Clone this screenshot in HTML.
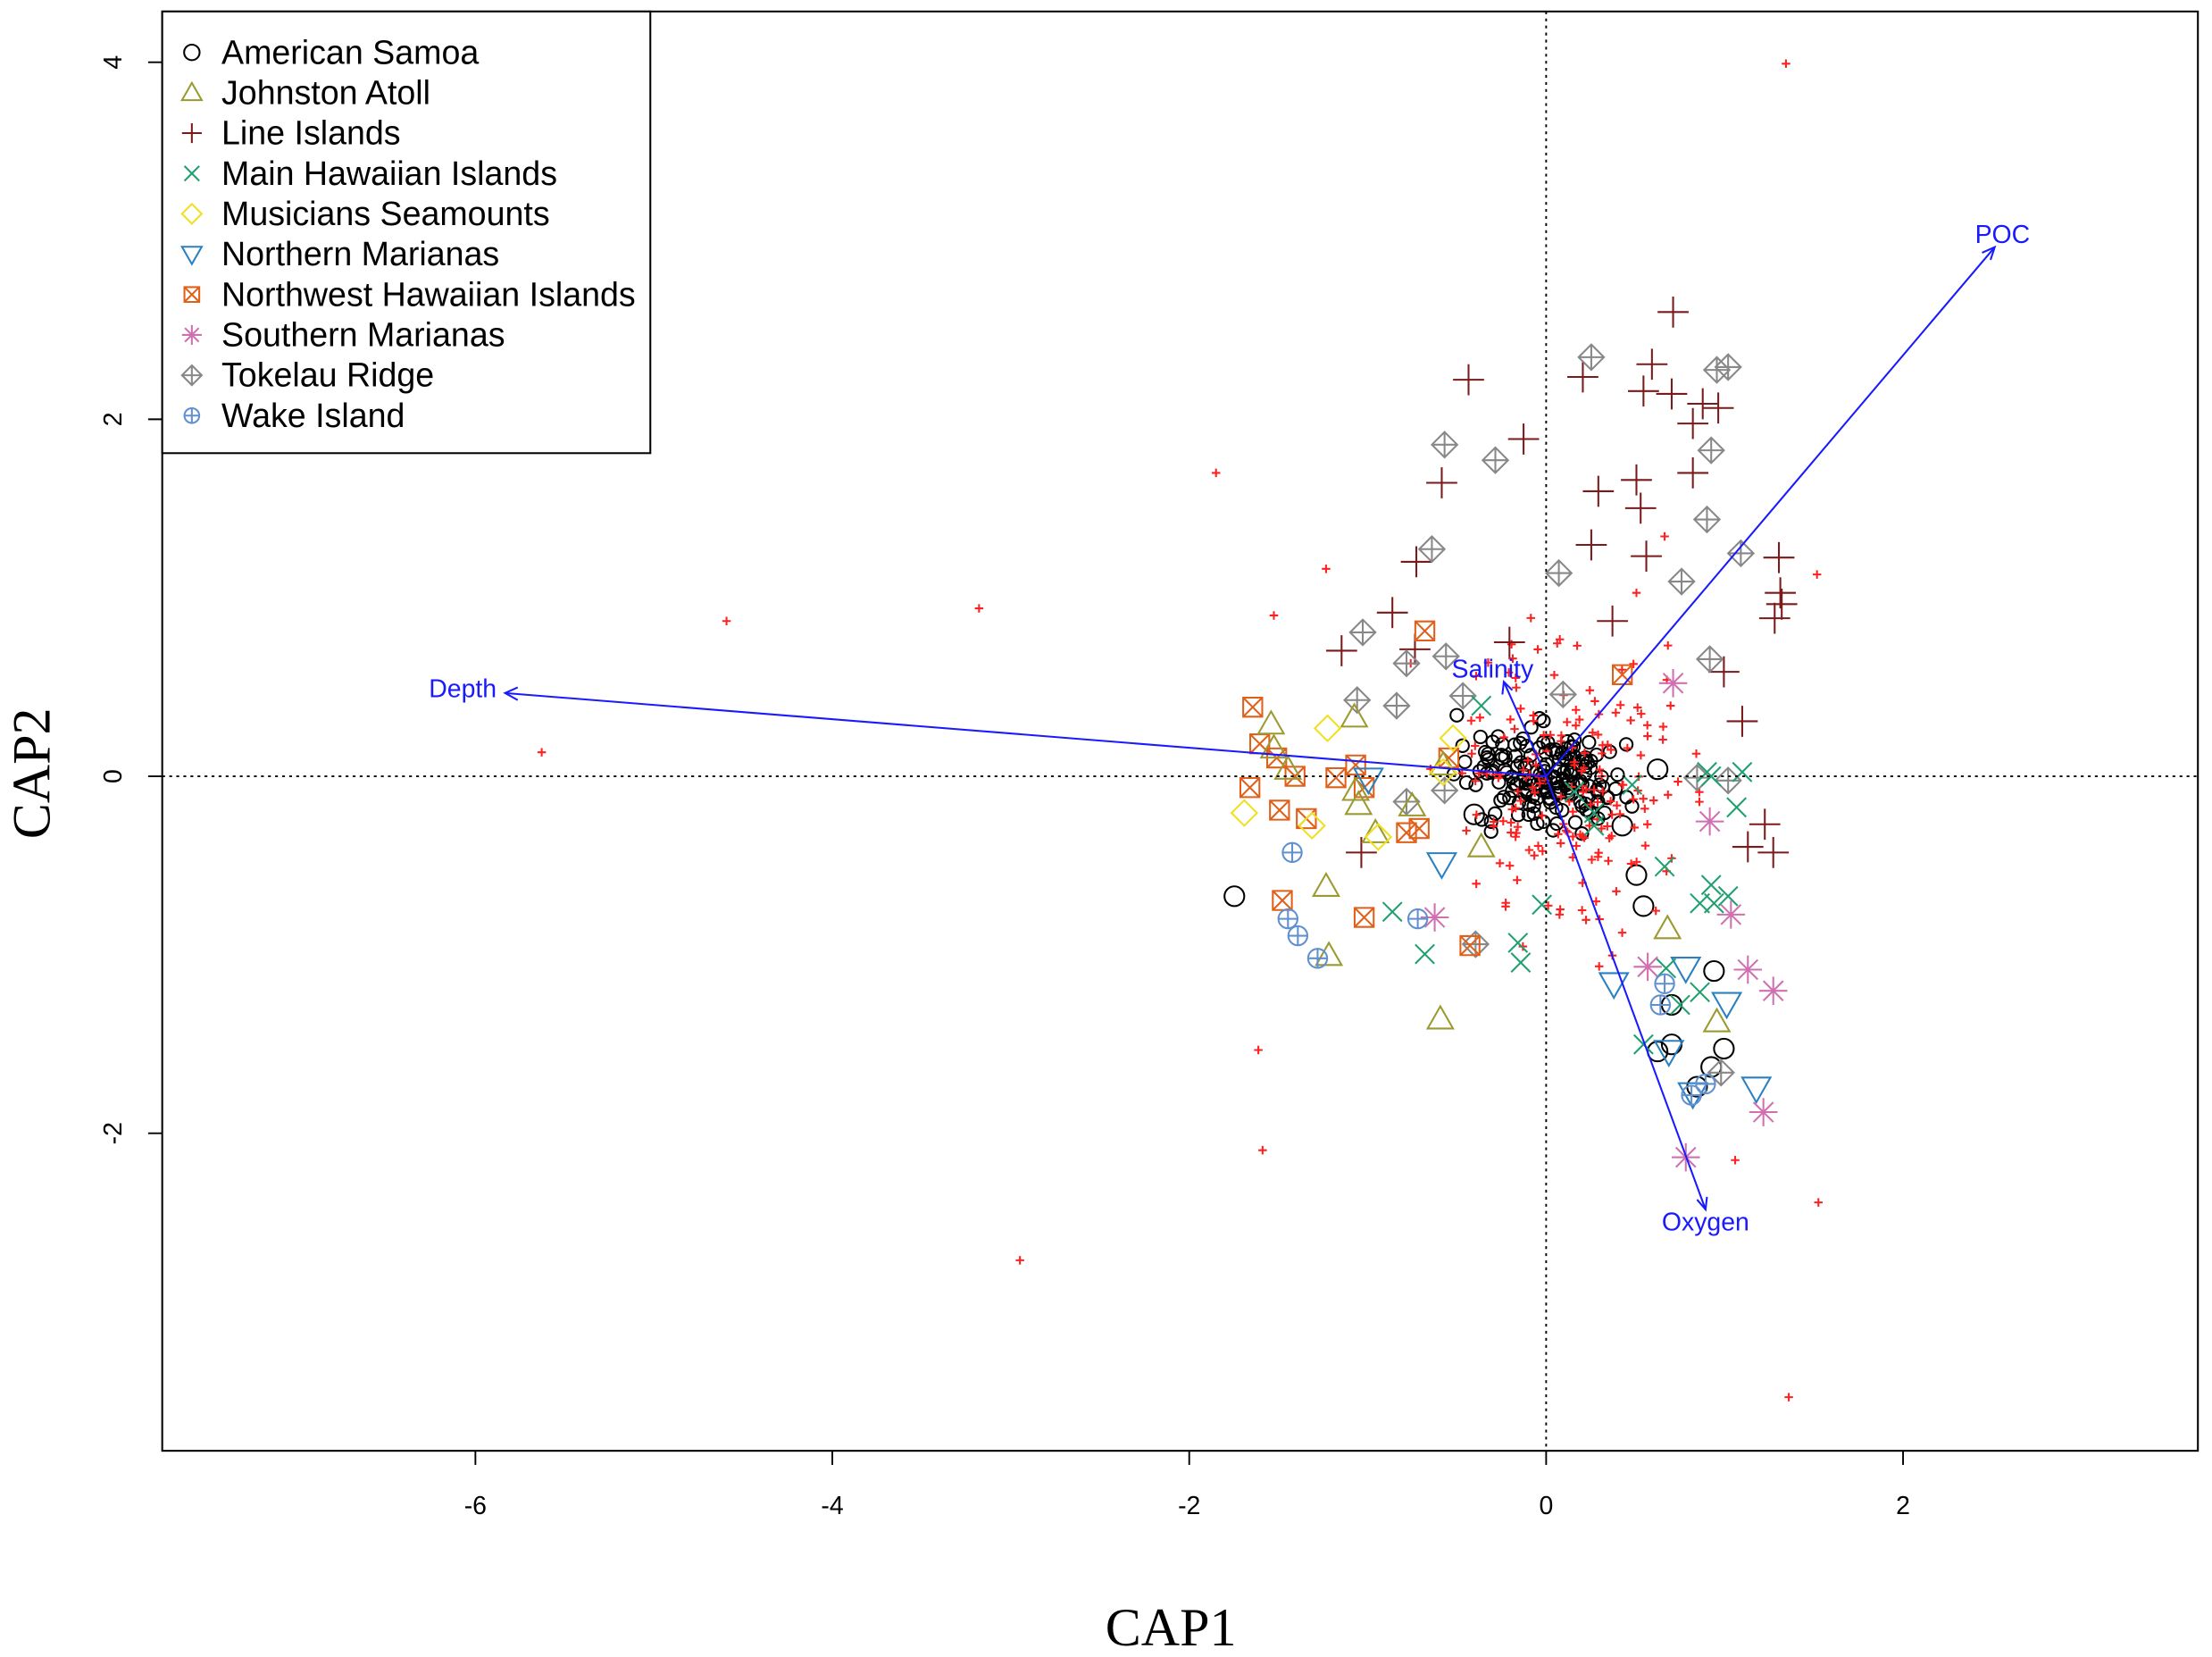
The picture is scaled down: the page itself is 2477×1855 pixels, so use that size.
<!DOCTYPE html>
<html><head><meta charset="utf-8"><style>
html,body{margin:0;padding:0;background:#fff;}
svg{display:block;}
text{font-family:"Liberation Sans",sans-serif;}
</style></head><body>
<svg id="s" width="2477" height="1855" viewBox="0 0 1568 1174" xmlns="http://www.w3.org/2000/svg">
<rect width="1568" height="1174" fill="#fff"/>
<g id="pts"></g>
<line x1="115" y1="550" x2="1558" y2="550" stroke="#000" stroke-width="1.2" stroke-dasharray="2,3"/>
<line x1="1096" y1="8" x2="1096" y2="1028" stroke="#000" stroke-width="1.2" stroke-dasharray="2,3"/>
<g stroke="#1a1aff" stroke-width="1.3" fill="none">
<line x1="1096" y1="550" x2="358" y2="491"/><path d="M367,487 L358,491 L367,496"/>
<line x1="1096" y1="550" x2="1414" y2="175"/><path d="M1405,179 L1414,175 L1411,184"/>
<line x1="1096" y1="550" x2="1066" y2="483"/><path d="M1065,492 L1066,483 L1072,489"/>
<line x1="1096" y1="550" x2="1209" y2="857"/><path d="M1203,850 L1209,857 L1210,848"/>
</g>
<g fill="#1a1aff" font-size="18">
<text x="304" y="494">Depth</text><text x="1400" y="172">POC</text>
<text x="1029" y="480">Salinity</text><text x="1178" y="872">Oxygen</text>
</g>
<rect x="115" y="8" width="1443" height="1020" fill="none" stroke="#000" stroke-width="1.3"/>
<g stroke="#000" stroke-width="1.2">
<line x1="337" y1="1028" x2="337" y2="1038"/><line x1="590" y1="1028" x2="590" y2="1038"/>
<line x1="843" y1="1028" x2="843" y2="1038"/><line x1="1096" y1="1028" x2="1096" y2="1038"/>
<line x1="1349" y1="1028" x2="1349" y2="1038"/>
<line x1="105" y1="44" x2="115" y2="44"/><line x1="105" y1="297" x2="115" y2="297"/>
<line x1="105" y1="550" x2="115" y2="550"/><line x1="105" y1="803" x2="115" y2="803"/>
</g>
<g font-size="18" text-anchor="middle" fill="#000">
<text x="337" y="1073">-6</text><text x="590" y="1073">-4</text><text x="843" y="1073">-2</text>
<text x="1096" y="1073">0</text><text x="1349" y="1073">2</text>
<text transform="translate(86,44) rotate(-90)">4</text>
<text transform="translate(86,297) rotate(-90)">2</text>
<text transform="translate(86,550) rotate(-90)">0</text>
<text transform="translate(86,803) rotate(-90)">-2</text>
</g>
<text x="830" y="1166" font-size="38" text-anchor="middle" style="font-family:'Liberation Serif',serif">CAP1</text>
<text transform="translate(35,548) rotate(-90)" font-size="38" text-anchor="middle" style="font-family:'Liberation Serif',serif">CAP2</text>
<rect x="115" y="8" width="346" height="313" fill="#fff" stroke="#000" stroke-width="1.3"/>
<g id="leg"></g>
</svg>
<script>
var NS="http://www.w3.org/2000/svg";
function el(p,t,a){var e=document.createElementNS(NS,t);for(var k in a)e.setAttribute(k,a[k]);p.appendChild(e);return e;}
var G=document.getElementById("pts");
function mk(p,type,x,y,r,c){
 var g=el(p,"g",{stroke:c,fill:"none","stroke-width":1.3});
 if(type=="o")el(g,"circle",{cx:x,cy:y,r:r});
 else if(type=="tri")el(g,"path",{d:"M"+x+","+(y-r)+"L"+(x+r)+","+(y+r*0.75)+"L"+(x-r)+","+(y+r*0.75)+"Z"});
 else if(type=="dtri")el(g,"path",{d:"M"+x+","+(y+r)+"L"+(x+r)+","+(y-r*0.75)+"L"+(x-r)+","+(y-r*0.75)+"Z"});
 else if(type=="+")el(g,"path",{d:"M"+(x-r)+","+y+"H"+(x+r)+"M"+x+","+(y-r)+"V"+(y+r)});
 else if(type=="x")el(g,"path",{d:"M"+(x-r*.75)+","+(y-r*.75)+"L"+(x+r*.75)+","+(y+r*.75)+"M"+(x-r*.75)+","+(y+r*.75)+"L"+(x+r*.75)+","+(y-r*.75)});
 else if(type=="dia")el(g,"path",{d:"M"+x+","+(y-r)+"L"+(x+r)+","+y+"L"+x+","+(y+r)+"L"+(x-r)+","+y+"Z"});
 else if(type=="sq")el(g,"path",{d:"M"+(x-r*.75)+","+(y-r*.75)+"h"+(1.5*r)+"v"+(1.5*r)+"h"+(-1.5*r)+"z M"+(x-r*.75)+","+(y-r*.75)+"l"+(1.5*r)+","+(1.5*r)+"M"+(x+r*.75)+","+(y-r*.75)+"l"+(-1.5*r)+","+(1.5*r)});
 else if(type=="star")el(g,"path",{d:"M"+(x-r)+","+y+"H"+(x+r)+"M"+x+","+(y-r)+"V"+(y+r)+"M"+(x-r*.7)+","+(y-r*.7)+"L"+(x+r*.7)+","+(y+r*.7)+"M"+(x-r*.7)+","+(y+r*.7)+"L"+(x+r*.7)+","+(y-r*.7)});
 else if(type=="dplus"){el(g,"path",{d:"M"+x+","+(y-r)+"L"+(x+r)+","+y+"L"+x+","+(y+r)+"L"+(x-r)+","+y+"Z M"+(x-r)+","+y+"H"+(x+r)+"M"+x+","+(y-r)+"V"+(y+r)});}
 else if(type=="oplus"){el(g,"circle",{cx:x,cy:y,r:r*.75});el(g,"path",{d:"M"+(x-r*.75)+","+y+"H"+(x+r*.75)+"M"+x+","+(y-r*.75)+"V"+(y+r*.75)});}
}
var seed=7;function rnd(){seed=(seed*16807)%2147483647;return (seed-1)/2147483646;}
function gs(){return (rnd()+rnd()+rnd()-1.5)/1.5;}
for(var i=0;i<170;i++){var x=1095+gs()*75,y=550+gs()*50;mk(G,"o",x,y,4.5,"#000");}
var bigO=[[875,635],[1160,620],[1165,642],[1175,545],[1215,688],[1185,712],[1175,745],[1185,740],[1222,743],[1213,756],[1203,770],[1045,577],[1150,585]];
bigO.forEach(function(p){mk(G,"o",p[0],p[1],7,"#000");});
for(var i=0;i<180;i++){var x=1110+gs()*120,y=555+gs()*150;mk(G,"+",x,y,3,"#ff2020");}
[[1266,45],[862,335],[515,440],[694,431],[384,533],[940,403],[903,436],[892,744],[895,815],[723,893],[1268,990],[1289,852],[1288,407],[1230,822],[1000,470],[1180,380],[1160,420]].forEach(function(p){mk(G,"+",p[0],p[1],3,"#ff2020");});
var D={
"+":["#7a1a1a",[[1041,269],[1080,311],[1022,342],[1004,398],[987,434],[951,461],[965,604],[1070,455],[1186,221],[1171,258],[1122,267],[1165,277],[1185,279],[1207,286],[1218,289],[1200,300],[1160,340],[1133,348],[1163,360],[1200,335],[1128,386],[1167,394],[1143,440],[1261,395],[1262,420],[1263,428],[1258,438],[1222,476],[1235,511],[1251,584],[1257,604],[1239,600],[1003,460]],11],
"dplus":["#888",[[1128,253],[1024,315],[1060,326],[1213,319],[1217,262],[1225,260],[1015,389],[1210,368],[1192,412],[1234,392],[1105,406],[966,448],[997,470],[990,500],[962,496],[1037,493],[1025,465],[1212,467],[1203,551],[1225,553],[997,568],[1024,560],[1046,669],[1220,760],[1108,492]],9],
"sq":["#e0601a",[[888,501],[893,527],[905,537],[886,558],[918,550],[907,574],[926,580],[947,551],[961,542],[967,558],[1027,537],[997,590],[1010,447],[1150,478],[909,638],[967,650],[1042,670],[1006,587]],9],
"tri":["#9a9a30",[[901,513],[903,530],[913,545],[960,508],[961,560],[963,570],[940,628],[942,677],[975,590],[1001,571],[1050,600],[1021,722],[1182,658],[1217,724],[1023,542]],9],
"dia":["#f0e020",[[941,516],[882,576],[930,585],[977,593],[1030,523],[1023,547]],9],
"dtri":["#2a80c0",[[1022,612],[1144,697],[1224,711],[1195,686],[1245,771],[1200,775],[1183,745],[970,552]],10],
"x":["#20a070",[[1050,500],[1180,614],[1116,561],[1130,585],[1130,576],[1210,547],[1213,627],[1205,640],[1215,640],[1225,635],[1205,703],[1191,712],[1165,740],[987,646],[1010,676],[1076,668],[1078,682],[1093,641],[1181,686],[1213,550],[1235,547],[1231,572],[1157,556]],9],
"star":["#d070b0",[[1186,484],[1212,582],[1227,648],[1168,685],[1239,687],[1257,702],[1250,788],[1195,820],[1017,650]],10],
"oplus":["#6090d0",[[916,604],[913,651],[920,663],[934,679],[1005,651],[1180,697],[1177,712],[1199,776],[1209,768]],9]};
for(var k in D){D[k][1].forEach(function(p){mk(G,k,p[0],p[1],D[k][2],D[k][0]);});}
var L=document.getElementById("leg");
var items=[["o","#000","American Samoa"],["tri","#9a9a30","Johnston Atoll"],["+","#7a1a1a","Line Islands"],["x","#20a070","Main Hawaiian Islands"],["dia","#f0e020","Musicians Seamounts"],["dtri","#2a80c0","Northern Marianas"],["sq","#e0601a","Northwest Hawaiian Islands"],["star","#d070b0","Southern Marianas"],["dplus","#888","Tokelau Ridge"],["oplus","#6090d0","Wake Island"]];
items.forEach(function(it,i){var y=37+i*28.6;mk(L,it[0],136,y,it[0]=="o"?5.5:7,it[1]);var t=el(L,"text",{x:157,y:y+8,"font-size":23.8,fill:"#000"});t.textContent=it[2];});
</script>
</body></html>
